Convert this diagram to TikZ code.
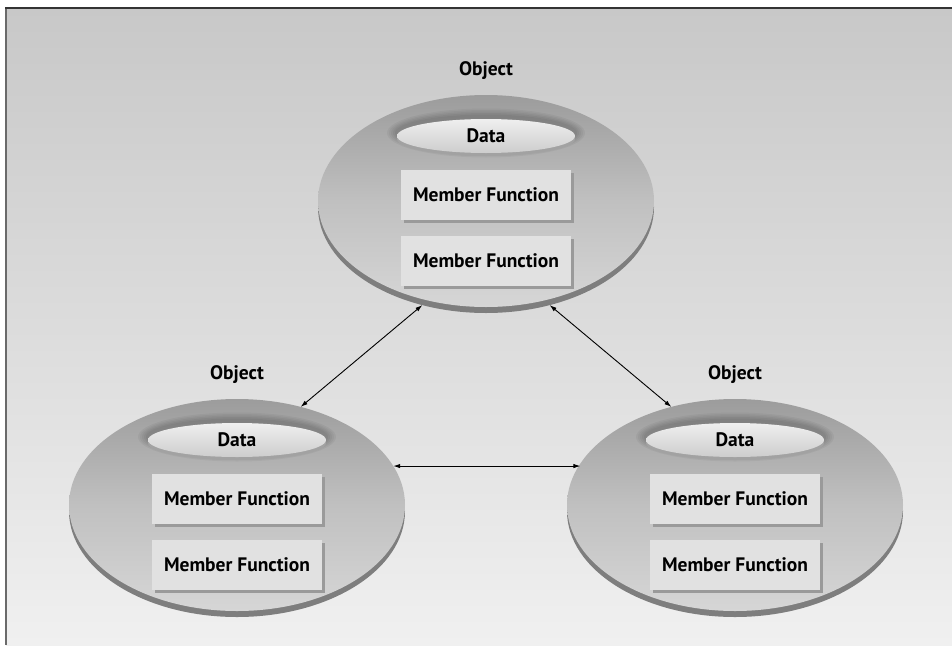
\documentclass[tikz,border=0pt]{standalone}
\usepackage{fontspec}
\setmainfont{PT Sans}
\usetikzlibrary{arrows.meta,shapes.geometric,shadows}

\definecolor{bgtop}{HTML}{C8C8C8}
\definecolor{bgbot}{HTML}{F0F0F0}
\definecolor{discTop}{HTML}{9C9C9C}
\definecolor{discMid}{HTML}{C0C0C0}
\definecolor{discBot}{HTML}{D6D6D6}
\definecolor{discRim}{HTML}{7E7E7E}
\definecolor{dataTop}{HTML}{EFEFEF}
\definecolor{dataBot}{HTML}{CDCDCD}
\definecolor{dataRim}{HTML}{A2A2A2}
\definecolor{boxFill}{HTML}{E1E1E1}
\definecolor{boxShade}{HTML}{9A9A9A}
\definecolor{frameDark}{HTML}{333333}
\definecolor{frameSide}{HTML}{6A6A6A}

\tikzset{
  discbody/.style={ellipse, inner sep=0pt, outer sep=0pt,
    minimum width=336pt, minimum height=212pt},
  objdisc/.style={discbody, top color=discTop, bottom color=discBot, middle color=discMid},
  rimdisc/.style={discbody, fill=discRim},
  datahalo/.style={ellipse, inner sep=0pt, fill=black, opacity=0.045},
  datarim/.style={ellipse, inner sep=0pt, minimum width=178pt, minimum height=34pt, fill=dataRim},
  datadisc/.style={ellipse, inner sep=0pt, minimum width=178pt, minimum height=34pt,
    top color=dataTop, bottom color=dataBot},
  fnbox/.style={rectangle, inner sep=0pt, minimum width=170pt, minimum height=50pt,
    fill=boxFill,
    drop shadow={shadow xshift=3pt, shadow yshift=-3pt, fill=boxShade, opacity=1}},
  objlabel/.style={inner sep=1pt},
  conn/.style={line width=0.9pt, {Latex[length=7pt,width=4.5pt]}-{Latex[length=7pt,width=4.5pt]}},
}

% One object: disc with rim, data ellipse, two member-function boxes and a caption
\newcommand\drawobject[3]{%
  \begin{scope}[shift={(#2,#3)}]
    \node[rimdisc] (#1rim) at (0,6) {};
    \node[objdisc] (#1) at (0,0) {};
    \foreach \k in {1,...,5}
      \node[datahalo, minimum width={178pt+4pt*\k}, minimum height={34pt+3pt*\k}] at (0,-68) {};
    \node[datarim] at (0,-62) {};
    \node[datadisc] (#1data) at (0,-65) {Data};
    \node[fnbox] (#1fa) at (0,-6) {Member Function};
    \node[fnbox] (#1fb) at (0,60) {Member Function};
    \node[objlabel] (#1label) at (0,-130) {Object};
  \end{scope}}

\begin{document}
\begin{tikzpicture}[x=1pt, y=-1pt, font=\bfseries\fontsize{19.5}{22}\selectfont]
  \useasboundingbox (0,0) rectangle (952,645);
  % page and framed backdrop
  \fill[white] (0,0) rectangle (952,645);
  \shade[top color=bgtop, bottom color=bgbot] (6,8) rectangle (952,645);
  \draw[frameSide, line width=2pt] (6,645) -- (6,8);
  \draw[frameDark, line width=2pt] (5,8) -- (952,8);

  \drawobject{T}{486}{201}
  \drawobject{L}{237}{505}
  \drawobject{R}{735}{505}

  % message links between the objects
  \draw[conn] (Trim.237) -- (L.57);
  \draw[conn] (Trim.303) -- (R.123);
  \draw[conn] (L.14.5) -- (R.165.5 |- L.14.5);
\end{tikzpicture}
\end{document}
